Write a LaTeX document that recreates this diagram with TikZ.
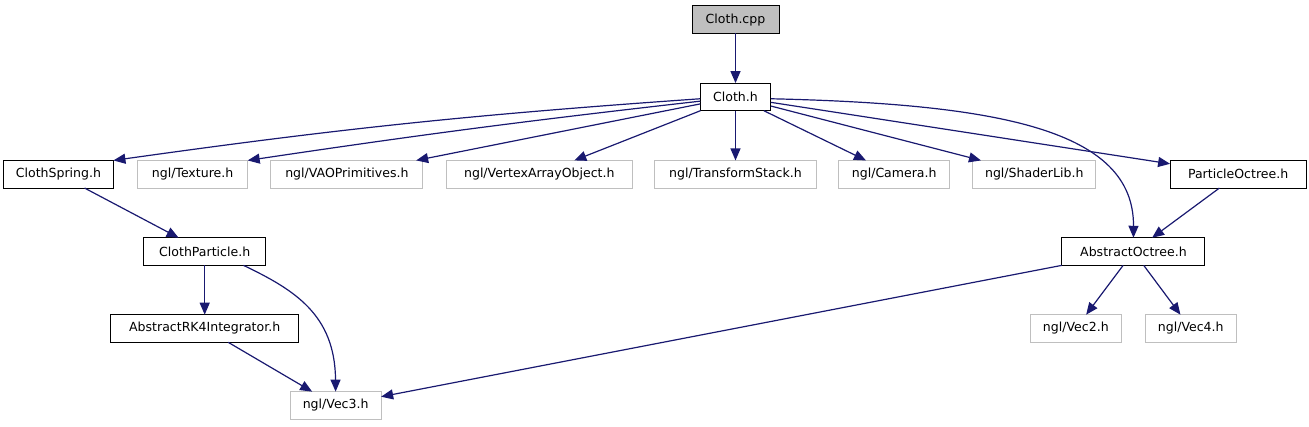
\documentclass[tikz,border=0pt]{standalone}
\usepackage{xcolor}
\usepackage{fontspec}
\setmainfont{DejaVu Sans}
\usetikzlibrary{arrows.meta, positioning}
\definecolor{edgeblue}{RGB}{25,25,112}
\definecolor{extgray}{RGB}{191,191,191}

\begin{document}
\begin{tikzpicture}[
    x=0.75pt, y=-0.75pt,
    box/.style={draw, rectangle, minimum height=20.7pt, inner xsep=2pt, inner ysep=0pt, outer sep=0pt, align=center, font=\fontsize{9.4}{11}\selectfont, line width=0.75pt},
    docbox/.style={box, draw=black},
    extbox/.style={box, draw=extgray},
    arrow/.style={-{Triangle[length=9pt,width=7.5pt]}, color=edgeblue, line width=0.9pt}
]
    \useasboundingbox (0,0) rectangle (1309,427);

    % Source file and its header
    \node[docbox, fill=extgray, minimum width=65.25pt] (cpp) at (735.5,19.7) {Cloth.cpp};
    \node[docbox, minimum width=52.9pt, below=37.2pt of cpp] (cloth) {Cloth.h};

    % Includes of Cloth.h (second row)
    \node[extbox, minimum width=121.5pt, below=37.3pt of cloth] (tstack) {ngl/TransformStack.h};
    \node[extbox, minimum width=139.2pt, left=16.8pt of tstack] (vaoobj) {ngl/VertexArrayObject.h};
    \node[extbox, minimum width=114pt, left=17.7pt of vaoobj] (vao) {ngl/VAOPrimitives.h};
    \node[extbox, minimum width=82.7pt, left=17.4pt of vao] (texture) {ngl/Texture.h};
    \node[docbox, minimum width=82.5pt, left=18pt of texture] (spring) {ClothSpring.h};
    \node[extbox, minimum width=83.6pt, right=16.5pt of tstack] (camera) {ngl/Camera.h};
    \node[extbox, minimum width=92.6pt, right=16.9pt of camera] (shader) {ngl/ShaderLib.h};
    \node[docbox, minimum width=102pt, right=55.6pt of shader] (poct) {ParticleOctree.h};

    % Third row
    \node[docbox, minimum width=91.2pt, below=37.3pt of spring, xshift=109.7pt] (cparticle) {ClothParticle.h};
    \node[docbox, minimum width=107.3pt, below=37.3pt of poct, xshift=-78.5pt] (aoct) {AbstractOctree.h};

    % Fourth row
    \node[docbox, minimum width=141.4pt, below=37pt of cparticle] (rk4) {AbstractRK4Integrator.h};
    \node[extbox, minimum width=68.1pt, below=37pt of aoct, xshift=-43.2pt] (vec2) {ngl/Vec2.h};
    \node[extbox, minimum width=68.25pt, right=18pt of vec2] (vec4) {ngl/Vec4.h};

    % Bottom row
    \node[extbox, minimum width=68.25pt, below=37pt of rk4, xshift=98.2pt] (vec3) {ngl/Vec3.h};

    % Arrows from Cloth.cpp and Cloth.h
    \draw[arrow] (cpp) -- (cloth);
    \draw[arrow] ([yshift=-1.4pt]cloth.west) to[bend right=2] (spring.north east);
    \draw[arrow] ([yshift=-3.2pt]cloth.west) to[bend right=1] (texture.north east);
    \draw[arrow] (cloth) -- (vao);
    \draw[arrow] (cloth) -- (vaoobj);
    \draw[arrow] (cloth) -- (tstack);
    \draw[arrow] (cloth) -- (camera);
    \draw[arrow] (cloth) -- (shader);
    \draw[arrow] (cloth) -- (poct);
    \draw[arrow] ([yshift=-1.4pt]cloth.east) .. controls (1000,104) and (1134,130) .. (aoct.north);

    % Lower arrows
    \draw[arrow] (spring) -- (cparticle);
    \draw[arrow] (poct) -- (aoct);
    \draw[arrow] (cparticle) -- (rk4);
    \draw[arrow] ([xshift=-16.5pt]cparticle.south east) .. controls (295,290) and (335,315) .. (vec3.north);
    \draw[arrow] (rk4) -- (vec3);
    \draw[arrow] (aoct) -- (vec3);
    \draw[arrow] (aoct) -- (vec2);
    \draw[arrow] (aoct) -- (vec4);

\end{tikzpicture}
\end{document}
